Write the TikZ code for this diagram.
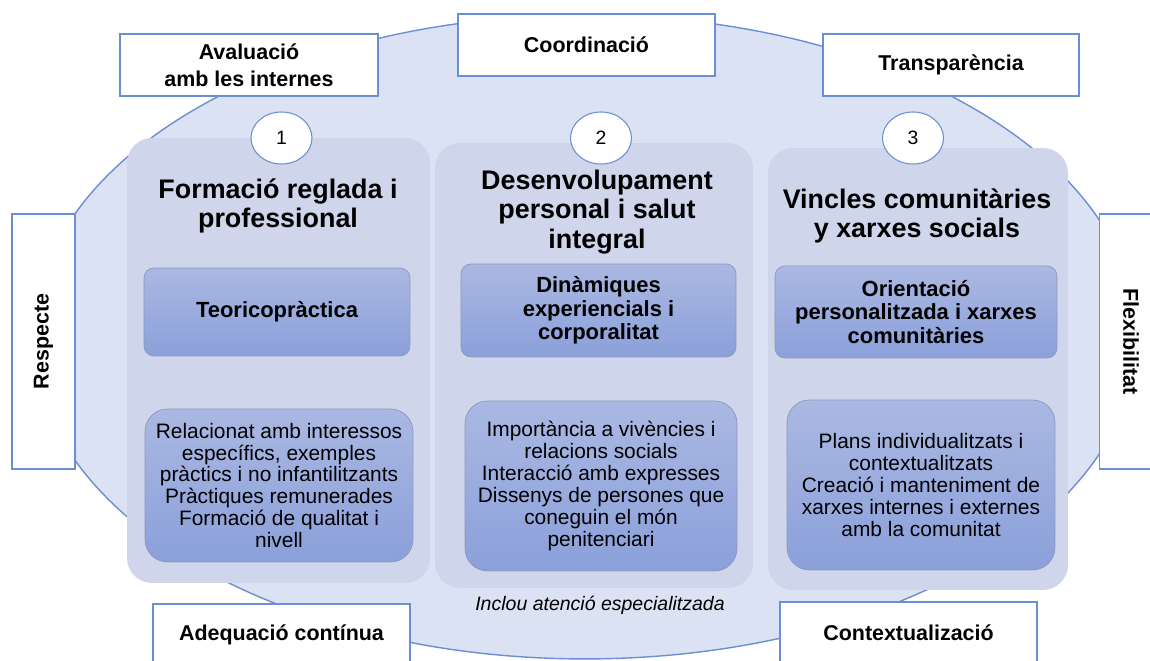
\documentclass[tikz,border=0pt]{standalone}
\usepackage{fontspec}
\setmainfont{Liberation Sans}
\usepackage{tikz}
\usetikzlibrary{shapes.geometric}

\definecolor{rim}{HTML}{6C8FD2}
\definecolor{bgblue}{HTML}{DAE2F3}
\definecolor{panelfill}{HTML}{CFD5EA}
\definecolor{boxtop}{HTML}{AAB8E2}
\definecolor{boxbot}{HTML}{8BA0DA}
\definecolor{boxrim}{HTML}{8C97BC}

\tikzset{
  outer/.style={ellipse, draw=rim, fill=bgblue, line width=0.8pt, inner sep=0pt},
  valuebox/.style={draw=rim, fill=white, line width=0.8pt, align=center, inner sep=0pt,
    font=\bfseries\fontsize{12.2}{15.6}\selectfont},
  panel/.style={fill=panelfill, rounded corners=0.5cm, inner sep=0pt},
  numbox/.style={ellipse, draw=rim, fill=white, line width=0.6pt, inner sep=0pt,
    minimum width=1.22cm, minimum height=1.04cm, font=\fontsize{11}{13}\selectfont},
  colhead/.style={align=center, font=\bfseries\fontsize{15.3}{16.6}\selectfont},
  headbox/.style={draw=boxrim, top color=boxtop, bottom color=boxbot, rounded corners=0.2cm,
    align=center, inner sep=0pt, font=\bfseries\fontsize{12.5}{13.4}\selectfont},
  detailbox/.style={draw=boxrim, top color=boxtop, bottom color=boxbot, rounded corners=0.45cm,
    align=center, inner sep=0pt, font=\fontsize{11.9}{12.5}\selectfont}
}

\begin{document}
\begin{tikzpicture}[x=0.02cm, y=-0.02cm]
  \clip (0, 0) rectangle (1150, 661);

  \node[outer, minimum width=22.08cm, minimum height=12.88cm] (ring) at (585, 337) {};

  % values around the ring
  \node[valuebox, minimum width=5.16cm, minimum height=1.24cm] (avaluacio) at (249, 65) {Avaluació\\amb les internes};
  \node[valuebox, minimum width=5.14cm, minimum height=1.24cm] (coord) at (586.5, 45) {Coordinació};
  \node[valuebox, minimum width=5.12cm, minimum height=1.24cm] (transp) at (951, 65) {Transparència};
  \node[valuebox, minimum width=5.1cm, minimum height=1.26cm, rotate=90] (respecte) at (43.5, 341.5) {Respecte};
  \node[valuebox, minimum width=5.1cm, minimum height=1.26cm, rotate=-90] (flexi) at (1131, 341.5) {Flexibilitat};
  \node[valuebox, minimum width=5.14cm, minimum height=1.24cm] (adequacio) at (281.5, 635) {Adequació contínua};
  \node[valuebox, minimum width=5.14cm, minimum height=1.24cm] (context) at (908.5, 633) {Contextualizació};

  % three columns
  \node[panel, minimum width=6.06cm, minimum height=8.9cm] (col1) at (278.5, 360.5) {};
  \node[panel, minimum width=6.36cm, minimum height=8.9cm] (col2) at (594, 365.5) {};
  \node[panel, minimum width=6.0cm, minimum height=8.84cm] (col3) at (918, 369) {};

  \node[numbox] (n1) at (281.5, 138) {1};
  \node[numbox] (n2) at (601, 138) {2};
  \node[numbox] (n3) at (913, 138) {3};

  \node[colhead] (t1) at (278, 206) {Formació reglada i\\professional};
  \node[colhead] (t2) at (597, 212) {Desenvolupament\\personal i salut\\integral};
  \node[colhead] (t3) at (917, 216) {Vincles comunitàries\\y xarxes socials};

  \node[headbox, minimum width=5.32cm, minimum height=1.76cm] (h1) at (277, 312) {Teoricopràctica};
  \node[headbox, minimum width=5.5cm, minimum height=1.86cm] (h2) at (598.5, 310.5) {Dinàmiques\\experiencials i\\corporalitat};
  \node[headbox, minimum width=5.64cm, minimum height=1.84cm] (h3) at (916, 312) {Orientació\\personalitzada i xarxes\\comunitàries};

  \node[detailbox, minimum width=5.36cm, minimum height=3.06cm] (d1) at (279, 485.5)
    {Relacionat amb interessos\\específics, exemples\\pràctics i no infantilitzants\\Pràctiques remunerades\\Formació de qualitat i\\nivell};
  \node[detailbox, minimum width=5.44cm, minimum height=3.4cm] (d2) at (601, 486)
    {Importància a vivències i\\relacions socials\\Interacció amb expresses\\Dissenys de persones que\\coneguin el món\\penitenciari};
  \node[detailbox, minimum width=5.36cm, minimum height=3.4cm] (d3) at (921, 485)
    {Plans individualitzats i\\contextualitzats\\Creació i manteniment de\\xarxes internes i externes\\amb la comunitat};

  \node[font=\itshape\fontsize{11.1}{12}\selectfont] (nota) at (600, 605) {Inclou atenció especialitzada};
\end{tikzpicture}
\end{document}
